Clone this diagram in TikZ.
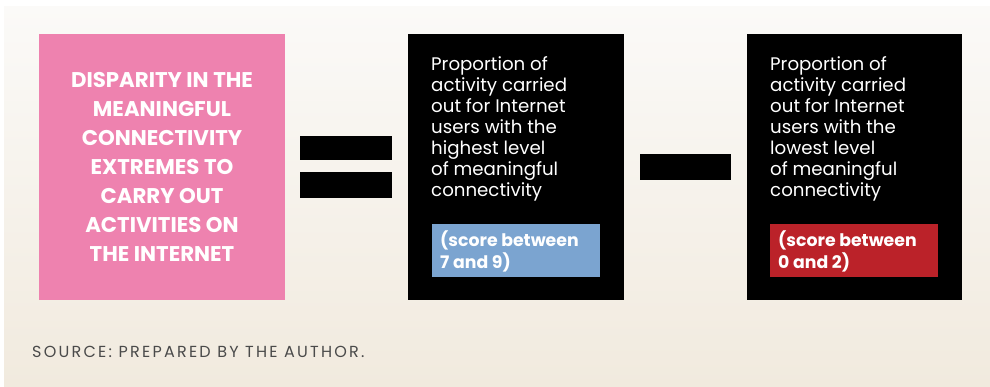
\documentclass[tikz,border=0pt]{standalone}
\usepackage{fontspec}
\setmainfont{Poppins}
\definecolor{pinkbox}{HTML}{EE82AF}
\definecolor{bluebox}{HTML}{7BA4D0}
\definecolor{redbox}{HTML}{BB2229}
\definecolor{bgtop}{HTML}{FBFAF8}
\definecolor{bgbot}{HTML}{F1EADE}
\definecolor{srcgray}{HTML}{4A4A4A}
\begin{document}
\begin{tikzpicture}[x=1pt,y=-1pt,
  blk/.style={fill=black,draw=none},
  bar/.style={fill=black,draw=none},
  bodytext/.style={text=white,align=left,anchor=base west,inner sep=0pt,font=\fontsize{18.2}{21.1}\selectfont},
  scoretext/.style={text=white,align=left,anchor=base west,inner sep=0pt,font=\fontsize{17.3}{21.5}\selectfont\bfseries},
  titletext/.style={text=white,align=center,anchor=base,inner sep=0pt,font=\fontsize{21.3}{29.07}\selectfont\bfseries}]
\useasboundingbox (0,0) rectangle (990,386);
\fill[white] (0,0) rectangle (990,386);
\shade[top color=bgtop,bottom color=bgbot] (4,6) rectangle (990,386);
% pink box
\fill[pinkbox] (39,34) rectangle (285,300);
\node[titletext] (title) at (162,261.7) {DISPARITY IN THE\\MEANINGFUL\\CONNECTIVITY\\EXTREMES TO\\CARRY OUT\\ACTIVITIES ON\\THE INTERNET};
% equals
\fill[bar] (300,136) rectangle (392,160);
\fill[bar] (300,172) rectangle (392,198);
% black box 1
\fill[blk] (408,34) rectangle (624,300);
\node[bodytext] (t1) at (431,196.6) {Proportion of\\activity carried\\out for Internet\\users with the\\highest level\\of meaningful\\connectivity};
\fill[bluebox] (432,224) rectangle (600,277);
\node[scoretext] (s1) at (440,268.2) {(score between\\7 and 9)};
% minus
\fill[bar] (640,154) rectangle (731,180);
% black box 2
\fill[blk] (747,34) rectangle (962,300);
\node[bodytext] (t2) at (770,196.6) {Proportion of\\activity carried\\out for Internet\\users with the\\lowest level\\of meaningful\\connectivity};
\fill[redbox] (770,224) rectangle (938,277);
\node[scoretext] (s2) at (778,268.2) {(score between\\0 and 2)};
% source
\node[anchor=base west,inner sep=0pt,text=srcgray,font=\fontsize{16}{18}\selectfont\addfontfeature{LetterSpace=14}] (src) at (32,357.3) {SOURCE: PREPARED BY THE AUTHOR.};
\end{tikzpicture}
\end{document}
